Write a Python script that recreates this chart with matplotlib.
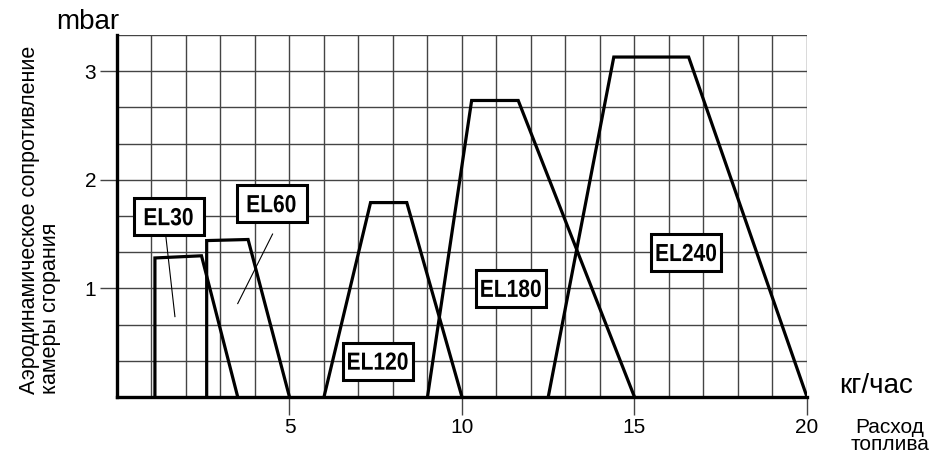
"""Аэродинамическое сопротивление камеры сгорания EL30..EL240."""
import numpy as np
from matplotlib import pyplot as plt
from matplotlib.font_manager import FontProperties
from matplotlib.patches import PathPatch, Rectangle
from matplotlib.textpath import TextPath
from matplotlib.transforms import Affine2D, IdentityTransform

plt.rcParams['font.family'] = ['Liberation Sans', 'DejaVu Sans']

# контуры рабочих полей горелок: расход (кг/час) и сопротивление (mbar)
el30_x = [1.1, 1.1, 2.45, 3.5]
el30_y = [0.0, 1.28, 1.30, 0.0]
el60_x = [2.6, 2.6, 3.8, 5.0]
el60_y = [0.0, 1.44, 1.45, 0.0]
el120_x = [6.0, 7.35, 8.4, 10.0]
el120_y = [0.0, 1.79, 1.79, 0.0]
el180_x = [9.0, 10.28, 11.63, 15.0]
el180_y = [0.0, 2.73, 2.73, 0.0]
el240_x = [12.5, 14.4, 16.57, 20.0]
el240_y = [0.0, 3.13, 3.13, 0.0]

labels = ['EL30', 'EL60', 'EL120', 'EL180', 'EL240']
label_x = [1.5, 4.48, 7.56, 11.42, 16.5]
label_y = [1.66, 1.78, 0.33, 1.0, 1.33]

# выноски от подписей к полям
lead30 = ([1.42, 1.68], [1.47, 0.74])
lead60 = ([4.51, 3.5], [1.50, 0.86])

x_ticks = [5, 10, 15, 20]
y_ticks = [1, 2, 3]

fig = plt.figure(figsize=(9.35, 4.54), dpi=100)
ax = fig.add_axes([0.1251, 0.1256, 0.7380, 0.7974])

ax.set_xlim(0, 20)
ax.set_ylim(0, 10 / 3)

# сетка: по 1 кг/час и по 1/3 mbar
for xv in np.arange(1, 21):
    ax.axvline(xv, color='#444444', lw=1.0, zorder=1)
for yv in np.arange(1, 11) / 3:
    ax.axhline(yv, color='#444444', lw=1.0, zorder=1)

for xs, ys in [(el30_x, el30_y), (el60_x, el60_y), (el120_x, el120_y),
               (el180_x, el180_y), (el240_x, el240_y)]:
    ax.plot(xs, ys, color='black', lw=2.3, solid_joinstyle='miter', zorder=3)

for lx, ly in [lead30, lead60]:
    ax.plot(lx, ly, color='black', lw=0.8, zorder=3)

# подписи в рамках: узкий жирный шрифт (сжимаем обычный по ширине)
bold = FontProperties(family='Liberation Sans', weight='bold')
for name, tx, ty in zip(labels, label_x, label_y):
    px, py = ax.transData.transform((tx, ty))
    ax.add_patch(Rectangle((px - 35, py - 18.5), 70, 37, transform=IdentityTransform(),
                           fc='white', ec='black', lw=2.2, zorder=4))
    path = TextPath((0, 0), name, size=24.7, prop=bold)
    ext = path.get_extents()
    cx = (ext.x0 + ext.x1) / 2
    cy = (ext.y0 + ext.y1) / 2
    tr = Affine2D().translate(-cx, -cy).scale(0.85, 1).translate(px, py)
    ax.add_patch(PathPatch(path, transform=tr, fc='black', ec='none', zorder=5))

for side in ['top', 'right']:
    ax.spines[side].set_visible(False)
ax.spines['left'].set_linewidth(2.4)
ax.spines['bottom'].set_linewidth(2.4)
ax.spines['left'].set_zorder(5)
ax.spines['bottom'].set_zorder(5)

ax.set_xticks(x_ticks)
ax.set_yticks(y_ticks)
ax.set_xticklabels([str(v) for v in x_ticks])
ax.set_yticklabels([str(v) for v in y_ticks])
ax.tick_params(axis='x', length=13, width=1, color='#444444', labelsize=15, pad=2)
ax.tick_params(axis='y', length=12, width=1, color='#444444', labelsize=15, pad=3)

fig.text(56 / 935, 1 - 22 / 454, 'mbar', fontsize=20, ha='left', va='center')
fig.text(839 / 935, 1 - 386 / 454, 'кг/час', fontsize=20, ha='left', va='center')
fig.text(890 / 935, 1 - 436 / 454, 'Расход\nтоплива', fontsize=15, ha='center',
         va='center', linespacing=0.85)
fig.text(40 / 935, 1 - 220 / 454, 'Аэродинамическое сопротивление\nкамеры сгорания',
         fontsize=15.5, rotation=90, ha='center', va='center', multialignment='left',
         linespacing=1.0)

fig.savefig('out.png', dpi=100)
